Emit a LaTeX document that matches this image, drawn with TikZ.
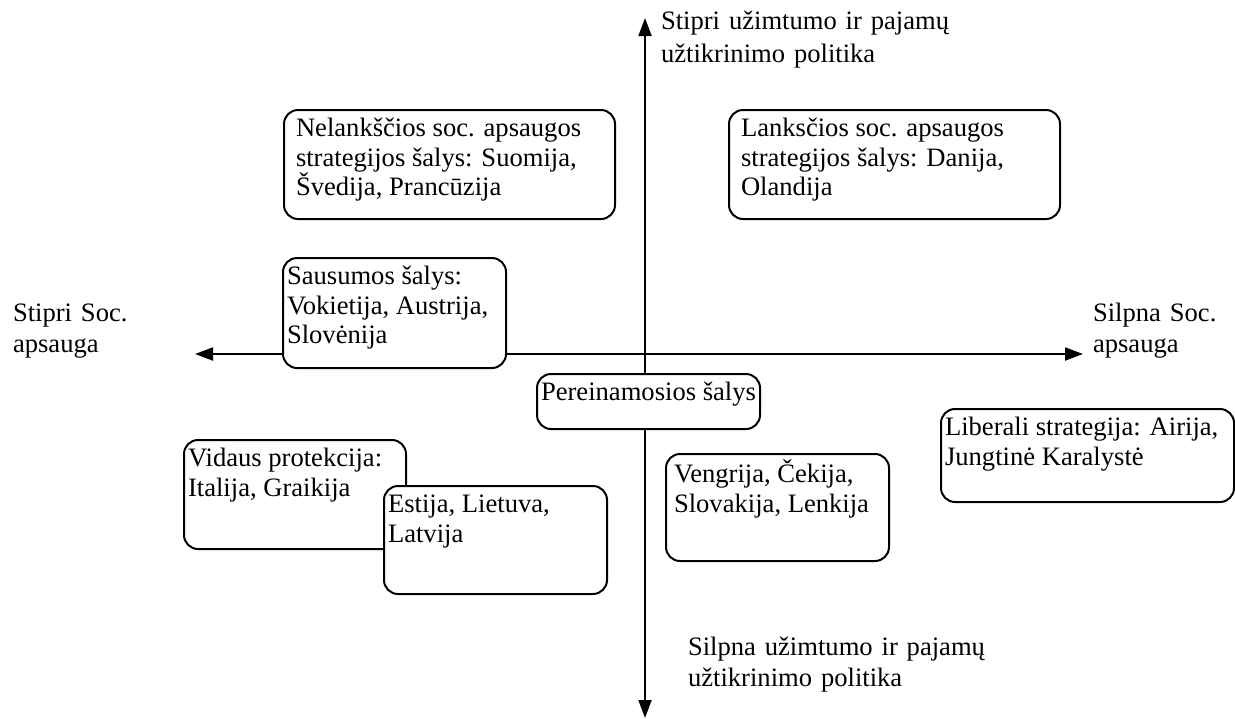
\documentclass[tikz,border=0pt]{standalone}
\usepackage{fontspec}
\setmainfont{Liberation Serif}
\usetikzlibrary{arrows.meta}
\newcommand{\cell}[4][0pt]{\parbox[t][\dimexpr #3pt/2-6pt\relax][t]{\dimexpr #2pt/2-4pt\relax}{\raggedright\leftskip=#1\strut #4}}
\begin{document}
\begin{tikzpicture}[x=0.5pt, y=-0.5pt, line width=1pt, font=\fontsize{13.3pt}{14.75pt}\selectfont,
  axis/.style={<->, >={Triangle[length=9pt,width=6.5pt]}},
  cbox/.style={draw, fill=white, rounded corners=7pt, inner xsep=2pt, inner ysep=3pt, anchor=north west},
  lab/.style={anchor=base west, inner sep=0pt, text width=200pt, align=left, font=\fontsize{13.3pt}{15.5pt}\selectfont}]
\useasboundingbox (0,0) rectangle (1235,718);
\coordinate (A_l) at (195,354);
\coordinate (A_r) at (1083,354);
\coordinate (A_t) at (645,18);
\coordinate (A_b) at (645,718);
\draw[axis] (A_l) -- (A_r);
\draw[axis] (A_b) -- (A_t);
\node[lab] (L_l) at (12,321) {Stipri Soc.\\apsauga};
\node[lab] (L_r) at (1092,321) {Silpna Soc.\\apsauga};
\node[lab] (L_t) at (660,29) {Stipri užimtumo ir pajamų\\[1pt]užtikrinimo politika};
\node[lab] (L_b) at (687,655) {Silpna užimtumo ir pajamų\\užtikrinimo politika};
\node[cbox] (B_nel) at (283,109) {\cell[4pt]{331}{109}{Nelankščios soc. apsaugos\\strategijos šalys: Suomija,\\Švedija, Prancūzija}};
\node[cbox] (B_lank) at (728,109) {\cell[4pt]{331}{109}{Lanksčios soc. apsaugos\\strategijos šalys: Danija,\\Olandija}};
\node[cbox] (B_saus) at (282,257) {\cell{223}{110}{Sausumos šalys:\\Vokietija, Austrija,\\Slovėnija}};
\node[cbox] (B_per) at (536,373) {\cell{223}{55}{\mbox{Pereinamosios šalys}}};
\node[cbox] (B_vid) at (183,439) {\cell{222}{109}{Vidaus protekcija:\\Italija, Graikija}};
\node[cbox] (B_est) at (383,485) {\cell{223}{108}{Estija, Lietuva,\\Latvija}};
\node[cbox] (B_veng) at (665,453) {\cell[2pt]{223}{107}{Vengrija, Čekija,\\Slovakija, Lenkija}};
\node[cbox] (B_lib) at (940,408) {\cell{293}{93}{Liberali strategija: Airija,\\Jungtinė Karalystė}};
\end{tikzpicture}
\end{document}
